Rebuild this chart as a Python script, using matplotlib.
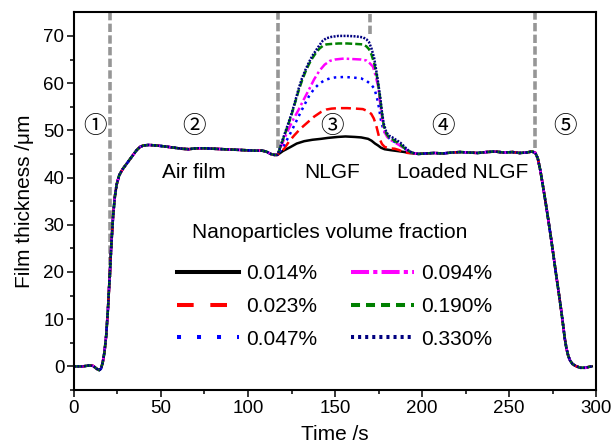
import numpy as np
import matplotlib.pyplot as plt

plt.rcParams['font.family'] = ['Liberation Sans', 'DejaVu Sans']
plt.rcParams['lines.scale_dashes'] = False
plt.rcParams['mathtext.default'] = 'regular'

# film thickness (um) vs time (s)
# parts shared by all six curves: regions 1-2 and 4-5
t_head = [0, 5, 9, 11, 13, 14.5, 15.5, 16.5, 17.5, 18.5, 19.5, 20.5, 21.5, 22.5, 23.5, 24.5, 26, 28, 30,
          32, 34, 36, 38, 40, 43, 47, 52, 58, 62, 66, 70, 75, 80, 86, 92, 98, 104, 108, 110.5, 113, 115]
y_head = [0.0, 0.0, 0.2, 0.1, -0.5, -0.8, -0.5, 0.8, 3.0, 6.5, 12.0, 19.0, 26.0, 32.0, 36.0, 38.5, 40.5, 41.8, 42.8,
          43.8, 44.8, 45.8, 46.5, 46.8, 46.9, 46.8, 46.6, 46.3, 46.1, 46.0, 46.2, 46.2, 46.1, 46.0, 45.9, 45.8, 45.7, 45.7, 45.5, 45.0, 44.8]
t_tail = [198, 202, 207, 212, 217, 222, 227, 232, 237, 242, 247, 252, 256, 260, 263, 265, 266.5, 268, 269.5, 271, 272.5,
          274, 275.5, 277, 278.5, 280, 281, 282, 283, 284, 285, 286.5, 288.5, 291, 294, 296, 297.5]
y_tail = [45.0, 45.1, 45.2, 45.1, 45.3, 45.4, 45.3, 45.2, 45.4, 45.5, 45.3, 45.4, 45.2, 45.3, 45.5, 45.3, 44.1, 41.5, 38.2, 34.8, 31.2,
          27.5, 23.6, 19.6, 15.8, 11.8, 9.0, 6.0, 3.8, 2.3, 1.3, 0.5, 0.05, -0.3, -0.3, -0.1, 0.0]

# region 3 (NLGF) for each volume fraction
t_014 = [117, 120, 124.6, 128, 132.3, 137, 142, 146, 151.6, 156, 161.3, 165, 169, 171, 173, 174.7, 176.5, 178.5, 182, 186.2, 190, 193, 196]
y_014 = [44.8, 45.6, 46.5, 47.2, 47.7, 48.0, 48.2, 48.4, 48.6, 48.7, 48.6, 48.5, 48.2, 47.8, 47.2, 46.8, 46.3, 46.0, 45.8, 45.6, 45.4, 45.2, 45.1]
t_023 = [117, 120.8, 123.5, 126.5, 130, 134.3, 138, 142, 145, 148, 152, 157, 162, 166, 168.5, 170.8, 172.3, 173.7, 174.7, 175.6,
         177, 178.5, 181, 184.3, 187, 189, 192, 194, 196]
y_023 = [44.8, 46.1, 47.6, 48.9, 50.3, 51.7, 52.9, 53.9, 54.4, 54.6, 54.7, 54.7, 54.6, 54.5, 54.1, 53.5, 52.5, 51.0, 49.5, 48.2,
         47.1, 46.5, 46.2, 46.1, 45.8, 45.4, 45.2, 45.2, 45.1]
t_047 = [117, 120, 123, 126, 128.5, 130.5, 132.3, 135, 138, 141, 144, 147, 150, 155, 160, 165, 168, 170.5, 172.7, 174.7, 175.6,
         176.6, 178, 179.5, 182, 184, 186.2, 189, 192, 194, 196]
y_047 = [44.8, 46.4, 48.4, 50.6, 52.5, 54.0, 55.3, 57.2, 58.8, 59.9, 60.6, 61.0, 61.2, 61.3, 61.2, 61.0, 60.5, 59.8, 58.8, 56.0, 54.0,
         51.7, 50.0, 48.9, 48.0, 47.6, 47.2, 46.4, 45.6, 45.3, 45.1]
t_094 = [117, 120, 123, 126, 129, 132, 135, 138, 141, 144, 147, 150, 155, 160, 165, 168, 170, 171.8, 173, 174.7, 175.6, 176.6,
         177.5, 178.5, 180, 182.3, 185, 188, 191, 194, 196]
y_094 = [44.8, 47.5, 50.0, 52.3, 54.3, 56.5, 58.6, 60.8, 62.6, 63.9, 64.7, 65.0, 65.2, 65.1, 65.0, 64.8, 64.2, 63.5, 62.0, 59.5, 56.8, 53.9,
         51.5, 49.6, 48.6, 47.9, 47.3, 46.6, 45.8, 45.3, 45.1]
t_190 = [117, 119, 121, 123, 125, 127, 129, 131, 133, 135, 137, 139, 141, 143, 145, 148, 152, 157, 162, 166, 168, 169.5, 171,
         172.5, 174, 175, 176, 177, 178, 179.5, 181, 183, 185, 187.5, 190, 192, 194, 196]
y_190 = [44.8, 46.9, 49.0, 51.1, 53.3, 55.8, 58.3, 60.5, 62.4, 64.0, 65.3, 66.4, 67.3, 67.9, 68.2, 68.3, 68.4, 68.4, 68.3, 68.2, 67.8, 67.2, 66.0,
         64.2, 61.6, 59.3, 56.5, 53.5, 51.0, 49.3, 48.5, 48.1, 47.6, 47.0, 46.2, 45.7, 45.3, 45.1]
t_330 = [117, 119, 121, 123, 125, 127, 129, 131, 133, 135, 137, 139, 141, 143, 145, 148, 152, 157, 162, 166, 168, 169.5, 171,
         172.5, 174, 175, 176, 177, 178, 179.5, 181, 183, 185, 187.5, 190, 192, 194, 196]
y_330 = [44.8, 47.0, 49.2, 51.3, 53.5, 56.0, 58.7, 61.0, 62.8, 64.4, 65.8, 66.9, 68.0, 69.0, 69.5, 69.8, 70.0, 70.0, 69.9, 69.7, 69.3, 68.7, 67.3,
         65.3, 62.0, 59.5, 57.0, 53.8, 51.4, 49.6, 48.9, 48.5, 48.0, 47.4, 46.5, 45.8, 45.3, 45.1]

labels = ['0.014%', '0.023%', '0.047%', '0.094%', '0.190%', '0.330%']
mids = [(t_014, y_014), (t_023, y_023), (t_047, y_047), (t_094, y_094), (t_190, y_190), (t_330, y_330)]
colors = ['black', '#ff0000', '#0000ff', '#ff00ff', '#008000', '#000080']
# dash patterns in points (plot, then legend)
plot_styles = ['-', (0, (7.2, 3.6)), (0, (1.8, 3.1)), (0, (6.5, 2.2, 1.8, 2.2)), (0, (5, 2.2)), (0, (1.4, 1.0))]
legend_styles = ['-', (0, (12, 12)), (0, (2.9, 11.5)), (0, (13, 3, 3, 3)), (0, (6.5, 4.3)), (0, (2.2, 2.9))]

# region boundaries (dashed gray) and labels
vline_x = [20.5, 117, 170, 265]
vline_low = [19, 46.3, 70.5, 46.3]
circ_labels = ['\u2460', '\u2461', '\u2462', '\u2463', '\u2464']
circ_x = [12, 69, 148.3, 212.2, 282.4]
region_names = ['Air film', 'NLGF', 'Loaded NLGF']
region_x = [69.1, 148.2, 223.4]

fig = plt.figure(figsize=(6.12, 4.46), dpi=100)
ax = fig.add_axes([0.1209, 0.1256, 0.8530, 0.8468])

ax.vlines(vline_x, vline_low, 75, colors='#969696', linewidth=2.6, linestyles=(0, (6, 2.4)), zorder=1)

for (tm, ym), lab, c, ls in zip(mids, labels, colors, plot_styles):
    t = t_head + tm + t_tail
    y = y_head + ym + y_tail
    ax.plot(t, y, color=c, linestyle=ls, linewidth=1.8, label=lab, zorder=2)

for s, x in zip(circ_labels, circ_x):
    ax.text(x, 50.8, s, ha='center', va='center', fontsize=17, family=['Noto Sans CJK SC', 'DejaVu Sans'])
for s, x in zip(region_names, region_x):
    ax.text(x, 41.0, s, ha='center', va='center', fontsize=15)

ax.text(147.1, 28.3, 'Nanoparticles volume fraction', ha='center', va='center', fontsize=15)
leg = ax.legend(ncol=2, loc='upper left', bbox_to_anchor=(0.197, 0.334), frameon=False, fontsize=15,
                handlelength=3.0, handletextpad=0.35, columnspacing=1.6, labelspacing=0.67,
                borderaxespad=0, borderpad=0)
for ln, ls in zip(leg.get_lines(), legend_styles):
    ln.set_linestyle(ls)
    ln.set_linewidth(2.9)

ax.set_xlim(0, 300)
ax.set_ylim(-5, 75)
ax.set_xticks(np.arange(0, 301, 50))
ax.set_xticks(np.arange(25, 300, 50), minor=True)
ax.set_yticks(np.arange(0, 71, 10))
ax.set_yticks(np.arange(-5, 75, 10), minor=True)
ax.tick_params(which='major', direction='out', length=5, width=1.1, labelsize=13.5, pad=2)
ax.tick_params(which='minor', direction='out', length=3, width=1.1)
for sp in ax.spines.values():
    sp.set_linewidth(1.5)

ax.set_xlabel('Time /s', fontsize=15, labelpad=6)
ax.set_ylabel('Film thickness /\u03bcm', fontsize=15, labelpad=7)

fig.savefig('out.png', dpi=100)
